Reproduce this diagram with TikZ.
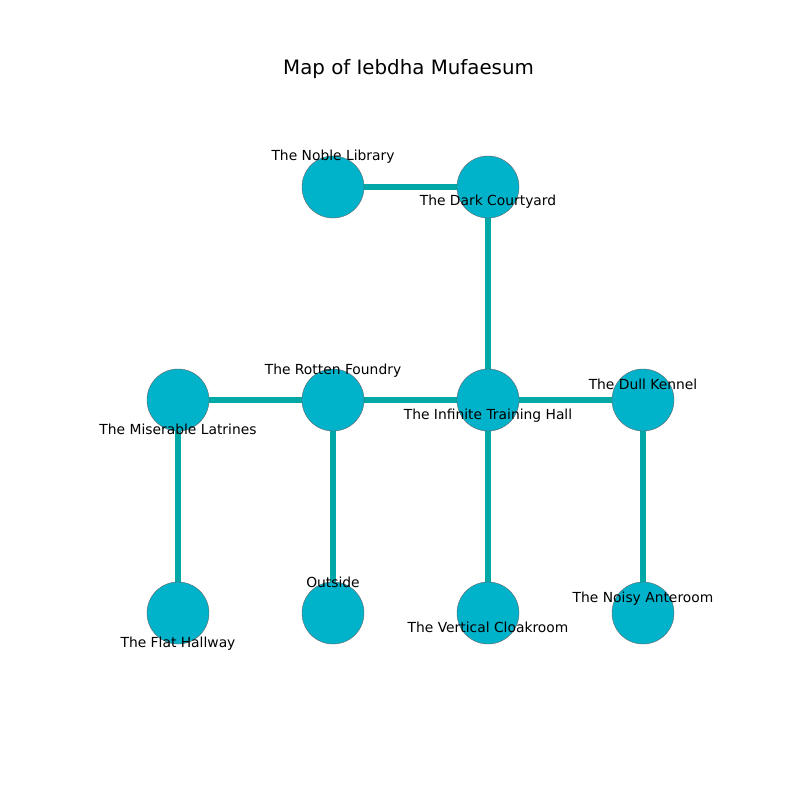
\documentclass[tikz,border=0pt]{standalone}
\usepackage{fontspec}
\setmainfont{DejaVu Sans}
\definecolor{nodefill}{RGB}{0,178,202}
\definecolor{edgecol}{RGB}{0,168,168}
\begin{document}
\begin{tikzpicture}[x=0.01in,y=-0.01in,
  room/.style={circle,fill=nodefill,draw=black!60,line width=0.3pt,minimum size=0.62in,inner sep=0pt},
  link/.style={draw=edgecol,line width=3.8pt},
  lbl/.style={font=\fontsize{10}{12}\selectfont,inner sep=0pt,text=black,anchor=base}]
\useasboundingbox (0,0) rectangle (800,800);
\node[font=\fontsize{14.3}{16}\selectfont,inner sep=0pt,anchor=base] (title) at (408.5,75) {Map of Iebdha Mufaesum};
\coordinate (nl) at (333,187);
\coordinate (dc) at (488,187);
\coordinate (ml) at (178,400);
\coordinate (rf) at (333,400);
\coordinate (it) at (488,400);
\coordinate (dk) at (643,400);
\coordinate (fh) at (178,613);
\coordinate (ou) at (333,613);
\coordinate (vc) at (488,613);
\coordinate (na) at (643,613);
\draw[link] (nl) -- (dc);
\draw[link] (dc) -- (it);
\draw[link] (ml) -- (rf);
\draw[link] (rf) -- (it);
\draw[link] (it) -- (dk);
\draw[link] (ml) -- (fh);
\draw[link] (rf) -- (ou);
\draw[link] (it) -- (vc);
\draw[link] (dk) -- (na);
\foreach \n in {nl,dc,ml,rf,it,dk,fh,ou,vc,na} \node[room] (c\n) at (\n) {};
\node[lbl] (tnl) at (333,161) {The Noble Library};
\node[lbl] (tdc) at (488,206) {The Dark Courtyard};
\node[lbl] (trf) at (333,374) {The Rotten Foundry};
\node[lbl] (tml) at (178,434) {The Miserable Latrines};
\node[lbl] (tit) at (488,419) {The Infinite Training Hall};
\node[lbl] (tdk) at (643,389) {The Dull Kennel};
\node[lbl] (tfh) at (178,647) {The Flat Hallway};
\node[lbl] (tou) at (333,587) {Outside};
\node[lbl] (tvc) at (488,632) {The Vertical Cloakroom};
\node[lbl] (tna) at (643,602) {The Noisy Anteroom};
\end{tikzpicture}
\end{document}
